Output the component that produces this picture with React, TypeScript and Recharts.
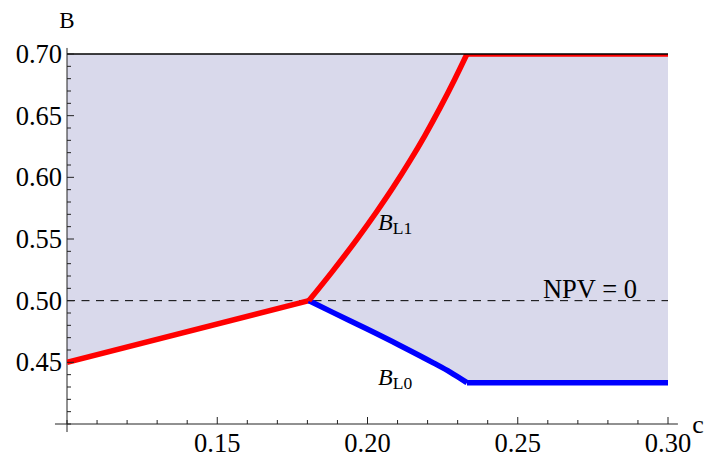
import React from "react";
import {
  Area,
  ComposedChart,
  Label,
  Line,
  ReferenceDot,
  ReferenceLine,
  XAxis,
  YAxis,
} from "recharts";

// lower red segment (c = 0.10 .. kink)
const cLower = [0.1, 0.1805];
const bLower = [0.45, 0.5];

// B_L1 curve up to the cap, then flat
const cL1 = [0.1805, 0.1886, 0.1964, 0.2031, 0.2086, 0.2141, 0.219, 0.224, 0.229, 0.2331];
const bL1 = [0.5, 0.5246, 0.5495, 0.5723, 0.5921, 0.6133, 0.6335, 0.6557, 0.6794, 0.7];
const cL1Flat = [0.2331, 0.3];
const bL1Flat = [0.7, 0.7];

// B_L0 curve, then flat
const cL0 = [0.1805, 0.1886, 0.1997, 0.2108, 0.2219, 0.2275, 0.2331];
const bL0 = [0.5, 0.4903, 0.4772, 0.4637, 0.4496, 0.4421, 0.4335];
const cL0Flat = [0.2331, 0.3];
const bL0Flat = [0.4335, 0.4335];

const bTop = 0.7;
const npv = 0.5;

const xTicks = [
  0.1, 0.11, 0.12, 0.13, 0.14, 0.15, 0.16, 0.17, 0.18, 0.19, 0.2, 0.21, 0.22,
  0.23, 0.24, 0.25, 0.26, 0.27, 0.28, 0.29, 0.3,
];
const xLabels = ["0.15", "0.20", "0.25", "0.30"];
const yTicks = [
  0.4, 0.41, 0.42, 0.43, 0.44, 0.45, 0.46, 0.47, 0.48, 0.49, 0.5, 0.51, 0.52,
  0.53, 0.54, 0.55, 0.56, 0.57, 0.58, 0.59, 0.6, 0.61, 0.62, 0.63, 0.64, 0.65,
  0.66, 0.67, 0.68, 0.69, 0.7,
];
const yLabels = ["0.45", "0.50", "0.55", "0.60", "0.65", "0.70"];

// where the text labels sit (data coords)
const posL1 = { c: 0.2035, b: 0.5575 };
const posL0 = { c: 0.2035, b: 0.432 };
const posNpv = { c: 0.2584, b: 0.5 };

const FONT = "'Liberation Serif', 'Times New Roman', serif";

const region = [
  ...cLower.map((c, i) => ({ c, range: [bLower[i], bTop] })),
  ...cL0.slice(1).map((c, i) => ({ c, range: [bL0[i + 1], bTop] })),
  { c: cL0Flat[1], range: [bL0Flat[1], bTop] },
];
const pts = (cs: number[], bs: number[]) => cs.map((c, i) => ({ c, b: bs[i] }));

function XTick(props: any) {
  const { x, y, payload } = props;
  const label = Number(payload.value).toFixed(2);
  const major = xLabels.includes(label);
  return (
    <g>
      <line x1={x} x2={x} y1={y} y2={y - (major ? 7 : 4)} stroke="#222" />
      {major && (
        <text x={x} y={y + 28} textAnchor="middle" fontFamily={FONT} fontSize={26.5} fill="#000">
          {label}
        </text>
      )}
    </g>
  );
}

function YTick(props: any) {
  const { x, y, payload } = props;
  const label = Number(payload.value).toFixed(2);
  const major = yLabels.includes(label);
  return (
    <g>
      <line x1={x} x2={x + (major ? 7 : 4)} y1={y} y2={y} stroke="#222" />
      {major && (
        <text x={x - 5} y={y + 9} textAnchor="end" fontFamily={FONT} fontSize={26.5} fill="#000">
          {label}
        </text>
      )}
    </g>
  );
}

function subLabel(sub: string) {
  return (p: any) => (
    <text x={p.cx} y={p.cy} fontFamily={FONT} fontSize={24} fill="#000">
      <tspan fontStyle="italic">B</tspan>
      <tspan fontSize={17.5} dy={4}>
        {sub}
      </tspan>
    </text>
  );
}

function Curve({ data, color, kind }: { data: any[]; color: string; kind: any }) {
  return (
    <Line
      data={data}
      dataKey="b"
      type={kind}
      stroke={color}
      strokeWidth={5.5}
      dot={false}
      activeDot={false}
      isAnimationActive={false}
    />
  );
}

export default function App() {
  return (
    <div style={{ position: "absolute", left: 0, top: 0, background: "#fff" }}>
      <ComposedChart
        width={704}
        height={462}
        margin={{ top: 54, right: 36, bottom: 37, left: 66 }}
      >
        <XAxis
          dataKey="c"
          type="number"
          domain={[0.1, 0.3]}
          ticks={xTicks}
          interval={0}
          tick={<XTick />}
          tickLine={false}
          axisLine={false}
          tickSize={0}
          tickMargin={0}
          height={1}
          allowDataOverflow
          label={
            <Label
              content={(p: any) => (
                <text
                  x={p.viewBox.x + p.viewBox.width + 30}
                  y={p.viewBox.y + 9}
                  textAnchor="middle"
                  fontFamily={FONT}
                  fontSize={26}
                  fill="#000"
                >
                  c
                </text>
              )}
            />
          }
        />
        <YAxis
          type="number"
          domain={[0.4, 0.7]}
          ticks={yTicks}
          interval={0}
          tick={<YTick />}
          tickLine={false}
          axisLine={false}
          tickSize={0}
          tickMargin={0}
          width={1}
          allowDataOverflow
          label={
            <Label
              content={(p: any) => (
                <text
                  x={p.viewBox.x + p.viewBox.width}
                  y={p.viewBox.y - 26}
                  textAnchor="middle"
                  fontFamily={FONT}
                  fontSize={23}
                  fill="#000"
                >
                  B
                </text>
              )}
            />
          }
        />
        <Area
          data={region}
          dataKey="range"
          type="linear"
          fill="#d9d9eb"
          fillOpacity={1}
          stroke="none"
          isAnimationActive={false}
        />
        {/* axes, crossing past each other like the original */}
        <ReferenceLine
          segment={[{ x: 0.096, y: 0.4 }, { x: 0.3033, y: 0.4 }]}
          stroke="#222"
          ifOverflow="visible"
        />
        <ReferenceLine
          segment={[{ x: 0.1, y: 0.3935 }, { x: 0.1, y: 0.7049 }]}
          stroke="#222"
          ifOverflow="visible"
        />
        <ReferenceLine y={npv} stroke="#000" strokeDasharray="8 6.5" />
        <Curve data={pts(cLower, bLower)} color="#ff0000" kind="linear" />
        <Curve data={pts(cL0, bL0)} color="#0000ff" kind="monotone" />
        <Curve data={pts(cL0Flat, bL0Flat)} color="#0000ff" kind="linear" />
        <Curve data={pts(cL1, bL1)} color="#ff0000" kind="monotone" />
        <Curve data={pts(cL1Flat, bL1Flat)} color="#ff0000" kind="linear" />
        <ReferenceLine y={bTop} stroke="#000" strokeWidth={1.5} />
        <ReferenceDot x={posL1.c} y={posL1.b} r={0} shape={subLabel("L1")} />
        <ReferenceDot x={posL0.c} y={posL0.b} r={0} shape={subLabel("L0")} />
        <ReferenceDot
          x={posNpv.c}
          y={posNpv.b}
          r={0}
          shape={(p: any) => (
            <text x={p.cx} y={p.cy - 3} fontFamily={FONT} fontSize={26.5} fill="#000">
              NPV = 0
            </text>
          )}
        />
      </ComposedChart>
    </div>
  );
}
